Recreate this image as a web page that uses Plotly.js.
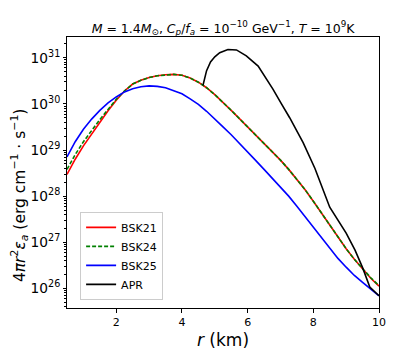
<!DOCTYPE html>
<html>
<head>
<meta charset="utf-8">
<script src="https://cdn.plot.ly/plotly-3.0.1.min.js"></script>
<style>html,body{margin:0;padding:0;background:#fff;}#chart{width:399px;height:363px;}</style>
</head>
<body>
<div id="chart"></div>
<script>
// radius grid (km)
var rGrid = [0.5,0.75,1.0,1.25,1.5,1.75,2.0,2.25,2.5,2.75,3.0,3.25,3.5,3.75,4.0,4.25,4.5,4.75,5.0,5.25,5.5,5.75,6.0,6.25,6.5,6.75,7.0,7.25,7.5,7.75,8.0,8.25,8.5,8.75,9.0,9.25,9.5,9.75,10.0];
// log10 of 4 pi r^2 eps_a
var bsk21Log = [28.47,28.80,29.09,29.35,29.60,29.85,30.08,30.28,30.43,30.51,30.57,30.61,30.63,30.64,30.62,30.56,30.47,30.35,30.20,30.04,29.86,29.68,29.50,29.33,29.15,28.97,28.78,28.58,28.37,28.14,27.89,27.63,27.36,27.10,26.86,26.63,26.42,26.22,26.05];
var bsk24Log = [28.58,28.90,29.18,29.43,29.66,29.88,30.10,30.28,30.43,30.51,30.57,30.61,30.63,30.64,30.62,30.56,30.47,30.35,30.20,30.04,29.86,29.68,29.50,29.33,29.15,28.97,28.78,28.58,28.37,28.14,27.89,27.63,27.36,27.10,26.86,26.63,26.43,26.23,26.06];
var bsk25Log = [28.85,29.18,29.45,29.67,29.86,30.02,30.15,30.26,30.33,30.37,30.39,30.38,30.35,30.29,30.22,30.11,29.99,29.84,29.68,29.50,29.33,29.15,28.96,28.77,28.58,28.39,28.20,28.00,27.78,27.55,27.32,27.09,26.86,26.65,26.46,26.28,26.13,25.98,25.84];
var aprR   = [4.64,4.75,4.87,5.0,5.15,5.4,5.66,5.96,6.32,6.77,7.03,7.28,7.69,8.05,8.5,8.76,9.0,9.27,9.5,9.72,10.0];
var aprLog = [30.40,30.72,30.91,31.02,31.11,31.18,31.17,31.04,30.82,30.32,30.00,29.70,29.16,28.60,27.76,27.47,27.20,26.83,26.45,26.03,25.84];

function toLin(a){ return a.map(function(v){ return Math.pow(10, v); }); }

var traces = [
  {x: rGrid, y: toLin(bsk21Log), name: 'BSK21', mode: 'lines', line: {color: '#ff0000', width: 1.6}},
  {x: rGrid, y: toLin(bsk24Log), name: 'BSK24', mode: 'lines', line: {color: '#008000', width: 1.6, dash: '4px,2px'}},
  {x: rGrid, y: toLin(bsk25Log), name: 'BSK25', mode: 'lines', line: {color: '#0000ff', width: 1.6}},
  {x: aprR, y: toLin(aprLog), name: 'APR', mode: 'lines', line: {color: '#000000', width: 1.6}}
];

var layout = {
  width: 399, height: 363,
  margin: {l: 67, r: 20, t: 37, b: 55},
  paper_bgcolor: '#fff', plot_bgcolor: '#fff',
  font: {family: 'DejaVu Sans', color: '#000', size: 11},
  title: {text: '<i>M</i> = 1.4<i>M</i><sub>⊙</sub>, <i>C<sub>p</sub></i>/<i>f<sub>a</sub></i> = 10<sup>−10</sup> GeV<sup>−1</sup>, <i>T</i> = 10<sup>9</sup>K',
          font: {size: 12.5, family: 'DejaVu Sans'}, x: 0.559, xanchor: 'center', y: 0.91, yanchor: 'bottom'},
  xaxis: {range: [0.5, 10], tickvals: [2,4,6,8,10], ticks: 'outside', ticklen: 3.5, tickcolor: '#000',
          showgrid: false, zeroline: false, showline: true, linecolor: '#000', linewidth: 1, mirror: true,
          tickfont: {size: 11}, title: {text: '<i>r</i> (km)', font: {size: 17}, standoff: 6}},
  yaxis: {type: 'log', range: [25.575, 31.45], dtick: 1, exponentformat: 'power', ticks: 'outside', ticklen: 3.5, tickcolor: '#000',
          minor: {ticks: 'outside', ticklen: 2, tickcolor: '#000', dtick: 'D1', showgrid: false},
          showgrid: false, zeroline: false, showline: true, linecolor: '#000', linewidth: 1, mirror: true,
          tickfont: {size: 11}},
  showlegend: true,
  legend: {x: 0.042, y: 0.03, xanchor: 'left', yanchor: 'bottom', bgcolor: 'rgba(255,255,255,0.8)',
           bordercolor: '#cccccc', borderwidth: 1, font: {size: 11}},
  annotations: [{
    text: '4<i>πr</i><sup>2</sup><i>ε<sub>a</sub></i> (erg cm<sup>−1</sup> · s<sup>−1</sup>)',
    textangle: -90, xref: 'paper', yref: 'paper', x: -0.152, y: 0.415, xanchor: 'center', yanchor: 'middle',
    showarrow: false, font: {size: 15.5}
  }]
};

Plotly.newPlot('chart', traces, layout, {displayModeBar: false, staticPlot: true});
</script>
</body>
</html>
